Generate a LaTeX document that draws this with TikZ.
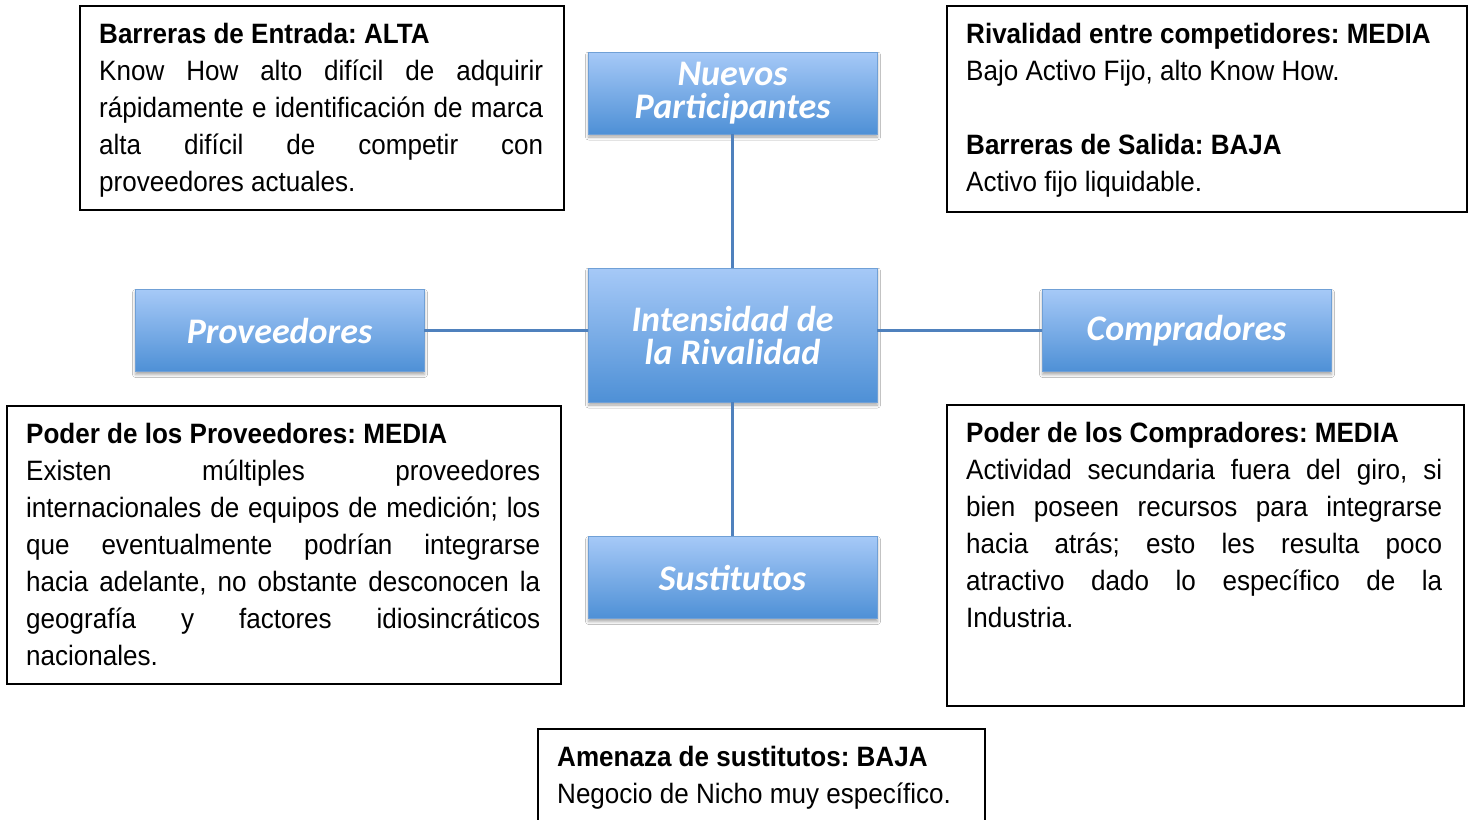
\documentclass[tikz,border=0pt]{standalone}
\usepackage{fontspec}
\setmainfont[FakeStretch=0.93]{Liberation Sans}
\newfontfamily\forceFont{Carlito}
\usetikzlibrary{positioning,shadows.blur}
\tikzstyle{diagram} = [x = 1pt, y = -1pt]
\definecolor{lineColor}{RGB}{79,129,189}
\definecolor{boxTop}{RGB}{166,201,247}
\definecolor{boxBottom}{RGB}{78,144,214}
\definecolor{boxBorder}{RGB}{112,160,214}
\tikzstyle{forceBox} = [draw=boxBorder, top color=boxTop, bottom color=boxBottom, minimum width=289pt, minimum height=82pt, inner sep=0pt, align=center, text=white, font=\forceFont\bfseries\itshape\fontsize{36}{33}\selectfont, blur shadow={shadow xshift=0.5pt, shadow yshift=-3pt, shadow blur radius=3pt, shadow opacity=35}]
\tikzstyle{connector} = [color=lineColor, line width=2.5pt]
\tikzstyle{infoFrame} = [draw=black, line width=1.6pt, inner sep=0pt, anchor=north west]
\tikzstyle{infoText} = [anchor=north west, inner sep=0pt, align=justify, font=\fontsize{28}{37}\selectfont]
\newcommand{\infoBox}[7]{
  \node [infoFrame, minimum width=#4pt, minimum height=#5pt] (#1) at (#2,#3) {};
  \node [infoText, text width=#6pt] (#1Text) at ([xshift=20pt, yshift=-18pt]#1.north west) {#7};
}

\begin{document}
\frenchspacing
\begin{tikzpicture}[diagram]
  \fill [white] (0,0) rectangle (1471,819);
  \useasboundingbox (0,0) rectangle (1471,819);
  \hyphenpenalty=10000

  \node [forceBox, minimum height=134pt] (rivalry) at (732.5,335) {Intensidad de\\la Rivalidad};
  \node [forceBox] (entrants) at (732.5,93) {Nuevos\\Participantes};
  \node [forceBox] (suppliers) at (279.5,330.5) {Proveedores};
  \node [forceBox] (buyers) at (1186.5,330.5) {Compradores};
  \node [forceBox] (substitutes) at (732.5,577.5) {Sustitutos};

  \draw [connector] (entrants) -- (rivalry);
  \draw [connector] (rivalry) -- (substitutes);
  \draw [connector] (suppliers) -- (suppliers -| rivalry.west);
  \draw [connector] (buyers -| rivalry.east) -- (buyers);

  \infoBox{entry}{79}{5}{484}{204}{444}{\textbf{Barreras de Entrada: ALTA}\\
    Know How alto difícil de adquirir\linebreak rápidamente e identificación de marca\linebreak
    alta difícil de competir con\linebreak proveedores actuales.}
  \infoBox{rivals}{946}{5}{520}{206}{480}{\textbf{Rivalidad entre competidores: MEDIA}\\
    Bajo Activo Fijo, alto Know How.\\ \mbox{}\\
    \textbf{Barreras de Salida: BAJA}\\ Activo fijo liquidable.}
  \infoBox{supplierPower}{6}{405}{554}{278}{514}{\textbf{Poder de los Proveedores: MEDIA}\\
    Existen múltiples proveedores\linebreak internacionales de equipos de medición; los\linebreak
    que eventualmente podrían integrarse\linebreak hacia adelante, no obstante desconocen la\linebreak
    geografía y factores idiosincráticos\linebreak nacionales.}
  \infoBox{buyerPower}{946}{404}{517}{301}{476}{\textbf{Poder de los Compradores: MEDIA}\\
    Actividad secundaria fuera del giro, si\linebreak bien poseen recursos para integrarse\linebreak
    hacia atrás; esto les resulta poco\linebreak atractivo dado lo específico de la\linebreak Industria.}
  \infoBox{threat}{537}{728}{447}{120}{407}{\textbf{Amenaza de sustitutos: BAJA}\\
    Negocio de Nicho muy específico.}
\end{tikzpicture}
\end{document}
